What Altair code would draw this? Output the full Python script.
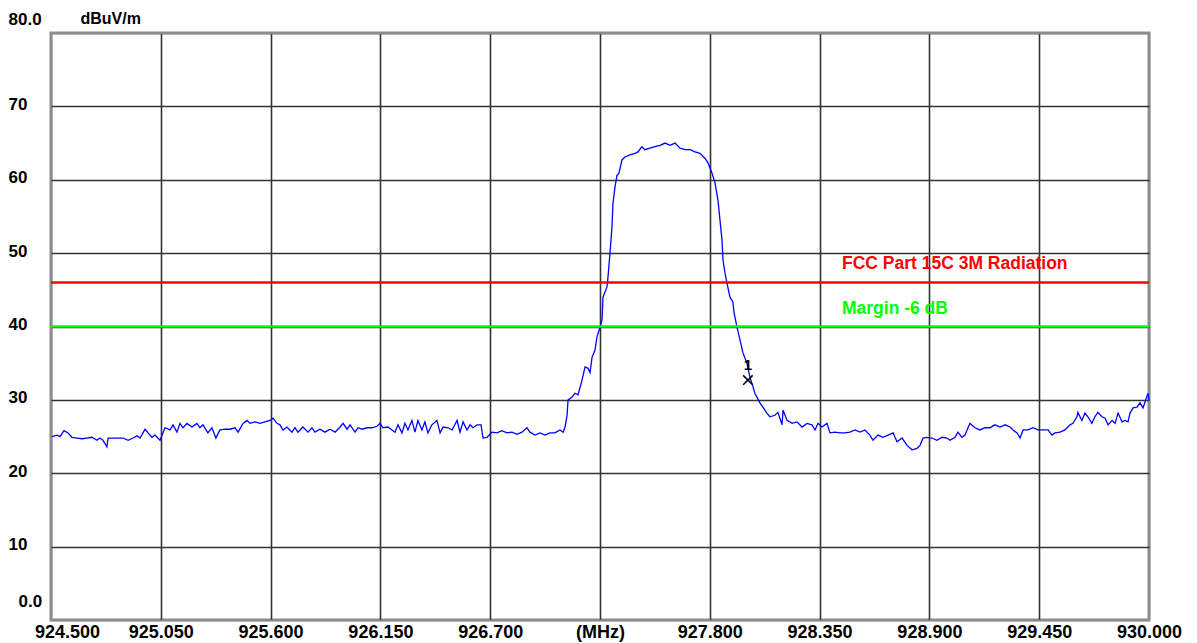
import altair as alt
import pandas as pd

# ---- trace (frequency in MHz, level in dBuV/m) ----
freq = [
    924.505, 924.530, 924.545, 924.565, 924.585, 924.605, 924.630, 924.655, 924.680, 924.705,
    924.730, 924.745, 924.760, 924.780, 924.786, 924.811, 924.836, 924.861, 924.886, 924.911,
    924.931, 924.946, 924.971, 924.986, 925.006, 925.021, 925.046, 925.071, 925.096, 925.111,
    925.131, 925.146, 925.161, 925.181, 925.206, 925.231, 925.246, 925.261, 925.286, 925.306,
    925.326, 925.346, 925.372, 925.397, 925.422, 925.437, 925.462, 925.482, 925.497, 925.522,
    925.547, 925.572, 925.597, 925.612, 925.632, 925.647, 925.662, 925.682, 925.707, 925.722,
    925.737, 925.762, 925.787, 925.807, 925.822, 925.847, 925.872, 925.898, 925.923, 925.948,
    925.963, 925.983, 925.998, 926.023, 926.038, 926.058, 926.083, 926.108, 926.133, 926.148,
    926.163, 926.188, 926.208, 926.223, 926.238, 926.258, 926.273, 926.288, 926.308, 926.323,
    926.338, 926.358, 926.373, 926.388, 926.408, 926.433, 926.449, 926.464, 926.489, 926.509,
    926.534, 926.549, 926.564, 926.584, 926.599, 926.614, 926.634, 926.654, 926.664, 926.684,
    926.709, 926.734, 926.759, 926.784, 926.809, 926.834, 926.859, 926.884, 926.899, 926.924,
    926.949, 926.974, 926.999, 927.024, 927.050, 927.065, 927.075, 927.085, 927.090, 927.110,
    927.125, 927.140, 927.160, 927.175, 927.190, 927.200, 927.210, 927.225, 927.235, 927.250,
    927.260, 927.265, 927.285, 927.290, 927.300, 927.310, 927.315, 927.325, 927.335, 927.345,
    927.360, 927.375, 927.400, 927.425, 927.440, 927.460, 927.475, 927.500, 927.525, 927.550,
    927.576, 927.601, 927.626, 927.651, 927.676, 927.701, 927.726, 927.751, 927.776, 927.791,
    927.811, 927.826, 927.841, 927.851, 927.861, 927.866, 927.876, 927.886, 927.901, 927.916,
    927.921, 927.936, 927.951, 927.966, 927.986, 928.001, 928.016, 928.026, 928.051, 928.066,
    928.086, 928.101, 928.126, 928.141, 928.162, 928.167, 928.187, 928.212, 928.237, 928.262,
    928.287, 928.312, 928.327, 928.342, 928.362, 928.387, 928.402, 928.427, 928.452, 928.477,
    928.502, 928.527, 928.552, 928.577, 928.602, 928.617, 928.642, 928.667, 928.693, 928.718,
    928.738, 928.763, 928.788, 928.813, 928.838, 928.853, 928.868, 928.888, 928.913, 928.938,
    928.963, 928.988, 929.003, 929.028, 929.043, 929.063, 929.078, 929.103, 929.128, 929.153,
    929.178, 929.203, 929.228, 929.254, 929.279, 929.304, 929.319, 929.339, 929.354, 929.369,
    929.394, 929.419, 929.444, 929.469, 929.494, 929.514, 929.529, 929.554, 929.579, 929.604,
    929.619, 929.639, 929.644, 929.664, 929.679, 929.694, 929.714, 929.729, 929.744, 929.764,
    929.780, 929.795, 929.815, 929.830, 929.845, 929.865, 929.880, 929.895, 929.905, 929.920,
    929.940, 929.955, 929.970, 929.980, 929.995, 930.000,
]
level = [
    25.0, 25.2, 25.0, 25.8, 25.5, 24.9, 24.8, 24.7, 24.8, 24.9,
    24.5, 24.8, 24.5, 23.6, 24.8, 24.8, 24.8, 24.8, 24.5, 24.8,
    25.1, 24.8, 26.0, 25.5, 24.9, 25.2, 24.5, 26.2, 25.9, 26.6,
    25.6, 26.8, 26.2, 26.8, 26.3, 26.8, 26.2, 26.6, 25.5, 26.2,
    24.8, 25.9, 26.0, 26.0, 26.2, 25.6, 26.8, 27.2, 26.8, 27.0,
    26.8, 27.0, 27.2, 27.5, 26.8, 26.6, 25.9, 26.3, 25.6, 26.2,
    25.6, 26.3, 25.6, 26.2, 25.6, 26.0, 25.6, 26.0, 25.6, 26.3,
    26.8, 26.0, 26.6, 25.6, 26.2, 26.0, 26.2, 26.2, 26.4, 26.8,
    26.2, 26.3, 25.9, 25.6, 26.6, 25.5, 26.8, 25.9, 27.2, 25.6,
    27.2, 25.9, 27.0, 25.5, 26.6, 27.2, 25.5, 26.3, 26.2, 25.9,
    27.2, 25.6, 27.0, 25.9, 26.6, 26.2, 26.6, 26.6, 24.8, 24.9,
    25.6, 25.5, 25.8, 25.5, 25.6, 25.3, 25.6, 26.2, 25.6, 25.2,
    25.5, 25.2, 25.5, 25.5, 25.9, 25.6, 26.3, 27.9, 30.0, 30.4,
    30.9, 30.7, 32.7, 34.5, 34.3, 33.7, 35.8, 36.8, 38.6, 39.9,
    40.9, 44.0, 45.4, 46.7, 50.0, 53.6, 56.8, 59.0, 60.6, 60.9,
    62.7, 63.1, 63.4, 63.6, 63.8, 64.5, 64.1, 64.3, 64.5, 64.7,
    65.0, 64.7, 65.0, 64.3, 64.1, 64.1, 63.8, 63.6, 62.9, 62.3,
    60.9, 59.6, 57.2, 54.5, 51.8, 49.1, 47.3, 45.9, 44.0, 43.3,
    42.0, 39.9, 38.2, 36.4, 35.0, 33.1, 31.8, 30.9, 29.6, 29.0,
    28.2, 27.7, 27.9, 28.3, 26.6, 28.6, 27.2, 26.8, 27.0, 26.3,
    26.8, 26.6, 25.9, 26.8, 26.3, 26.8, 25.5, 25.6, 25.5, 25.5,
    25.6, 25.9, 25.6, 25.9, 25.2, 24.5, 25.2, 24.9, 25.2, 25.5,
    24.3, 24.8, 23.8, 23.2, 23.4, 23.8, 24.8, 24.9, 24.8, 24.5,
    24.9, 24.8, 24.5, 24.9, 25.6, 24.9, 25.2, 26.8, 26.2, 25.9,
    26.2, 26.2, 26.6, 26.3, 26.6, 26.3, 25.9, 25.5, 24.8, 25.9,
    25.9, 26.2, 25.9, 25.9, 25.9, 25.2, 25.5, 25.6, 25.9, 26.6,
    26.8, 27.7, 28.3, 27.2, 28.2, 27.7, 26.8, 27.7, 28.3, 27.7,
    27.5, 26.6, 27.2, 26.8, 28.2, 27.0, 27.2, 27.0, 28.2, 28.9,
    29.0, 29.6, 28.9, 29.7, 30.9, 30.0,
]

# ---- limit lines ----
limit_names = ["FCC Part 15C 3M Radiation", "Margin -6 dB"]
limit_values = [46.0, 40.0]
limit_colors = ["#ff0000", "#00ff00"]
label_freq = [928.462, 928.462]

# ---- marker ----
marker_freq = [927.991]
marker_level = [32.7]
marker_text = ["1"]

# ---- axes ----
x_ticks = [924.5, 925.05, 925.6, 926.15, 926.7, 927.25, 927.8, 928.35, 928.9, 929.45, 930.0]
y_ticks = [0, 10, 20, 30, 40, 50, 60, 70, 80]

FONT = "Liberation Sans"
X_DOMAIN = [924.5, 930.0]
Y_DOMAIN = [0, 80]

trace_df = pd.DataFrame({"freq": freq, "level": level})
limits_df = pd.DataFrame({"name": limit_names, "value": limit_values,
                          "color": limit_colors, "lx": label_freq})
marker_df = pd.DataFrame({"freq": marker_freq, "level": marker_level, "text": marker_text})

x_scale = alt.Scale(domain=X_DOMAIN, nice=False, zero=False)
y_scale = alt.Scale(domain=Y_DOMAIN, nice=False, zero=False)

x_axis = alt.Axis(
    values=x_ticks,
    labelExpr="abs(datum.value - 927.25) < 0.001 ? '(MHz)' : format(datum.value, '.3f')",
    grid=True,
    gridColor={"condition": {"test": "datum.value == 924.5 || datum.value == 930", "value": "#8c8c8c"},
               "value": "#333333"},
    gridWidth=1.6,
    gridOpacity=1,
    domain=False,
    ticks=False,
    tickSize=0,
    labelFont=FONT,
    labelFontSize=18,
    labelFontWeight="bold",
    labelColor="#000000",
    labelPadding=3,
    labelOffset={"condition": {"test": "datum.value == 924.5", "value": 16}, "value": 0},
    labelOverlap=False,
    labelFlush=False,
    title=None,
)

y_axis = alt.Axis(
    values=y_ticks,
    labelExpr="datum.value == 80 ? '80.0' : (datum.value == 0 ? '0.0' : '' + datum.value)",
    grid=True,
    gridColor={"condition": {"test": "datum.value == 0 || datum.value == 80", "value": "#8c8c8c"},
               "value": "#333333"},
    gridWidth=1.6,
    gridOpacity=1,
    domain=False,
    ticks=False,
    tickSize=0,
    labelFont=FONT,
    labelFontSize=17,
    labelFontWeight="bold",
    labelColor="#000000",
    labelAlign="left",
    labelBaseline="middle",
    labelPadding={"condition": {"test": "datum.value == 0", "value": 33}, "value": 43},
    labelOffset={"condition": [{"test": "datum.value == 80", "value": -14},
                               {"test": "datum.value == 0", "value": -19}], "value": -2},
    labelOverlap=False,
    labelFlush=False,
    title="dBuV/m",
    titleAngle=0,
    titleX=29,
    titleY=-15,
    titleAlign="left",
    titleBaseline="middle",
    titleFont=FONT,
    titleFontSize=16,
    titleFontWeight="bold",
    titleColor="#000000",
)

trace = alt.Chart(trace_df).mark_line(color="#0000ff", strokeWidth=1.3).encode(
    x=alt.X("freq:Q", scale=x_scale, axis=x_axis),
    y=alt.Y("level:Q", scale=y_scale, axis=y_axis),
)

limit_rules = alt.Chart(limits_df).mark_rule(strokeWidth=2.6).encode(
    y=alt.Y("value:Q", scale=y_scale),
    color=alt.Color("color:N", scale=None),
)

limit_text = alt.Chart(limits_df).mark_text(
    align="left", baseline="alphabetic", dy=-13, font=FONT, fontSize=17.5, fontWeight="bold"
).encode(
    x=alt.X("lx:Q", scale=x_scale),
    y=alt.Y("value:Q", scale=y_scale),
    text="name:N",
    color=alt.Color("color:N", scale=None),
)

marker_pt = alt.Chart(marker_df).mark_point(
    shape="M-1,-1L1,1M-1,1L1,-1", filled=False, stroke="#000000", strokeWidth=1.6,
    size=90, opacity=1,
).encode(
    x=alt.X("freq:Q", scale=x_scale),
    y=alt.Y("level:Q", scale=y_scale),
)

marker_lbl = alt.Chart(marker_df).mark_text(
    align="center", baseline="middle", dy=-15, font=FONT, fontSize=15, fontWeight="bold",
    color="#000000",
).encode(
    x=alt.X("freq:Q", scale=x_scale),
    y=alt.Y("level:Q", scale=y_scale),
    text="text:N",
)

chart = alt.layer(trace, limit_rules, limit_text, marker_pt, marker_lbl).properties(
    width=1098,
    height=587,
    padding={"left": 43, "top": 25, "right": 40, "bottom": 22},
    autosize=alt.AutoSizeParams(type="none"),
    background="#ffffff",
).configure_view(
    stroke="#8c8c8c",
    strokeWidth=3,
)

chart.save("out.html", embed_options={"renderer": "svg", "actions": False})
